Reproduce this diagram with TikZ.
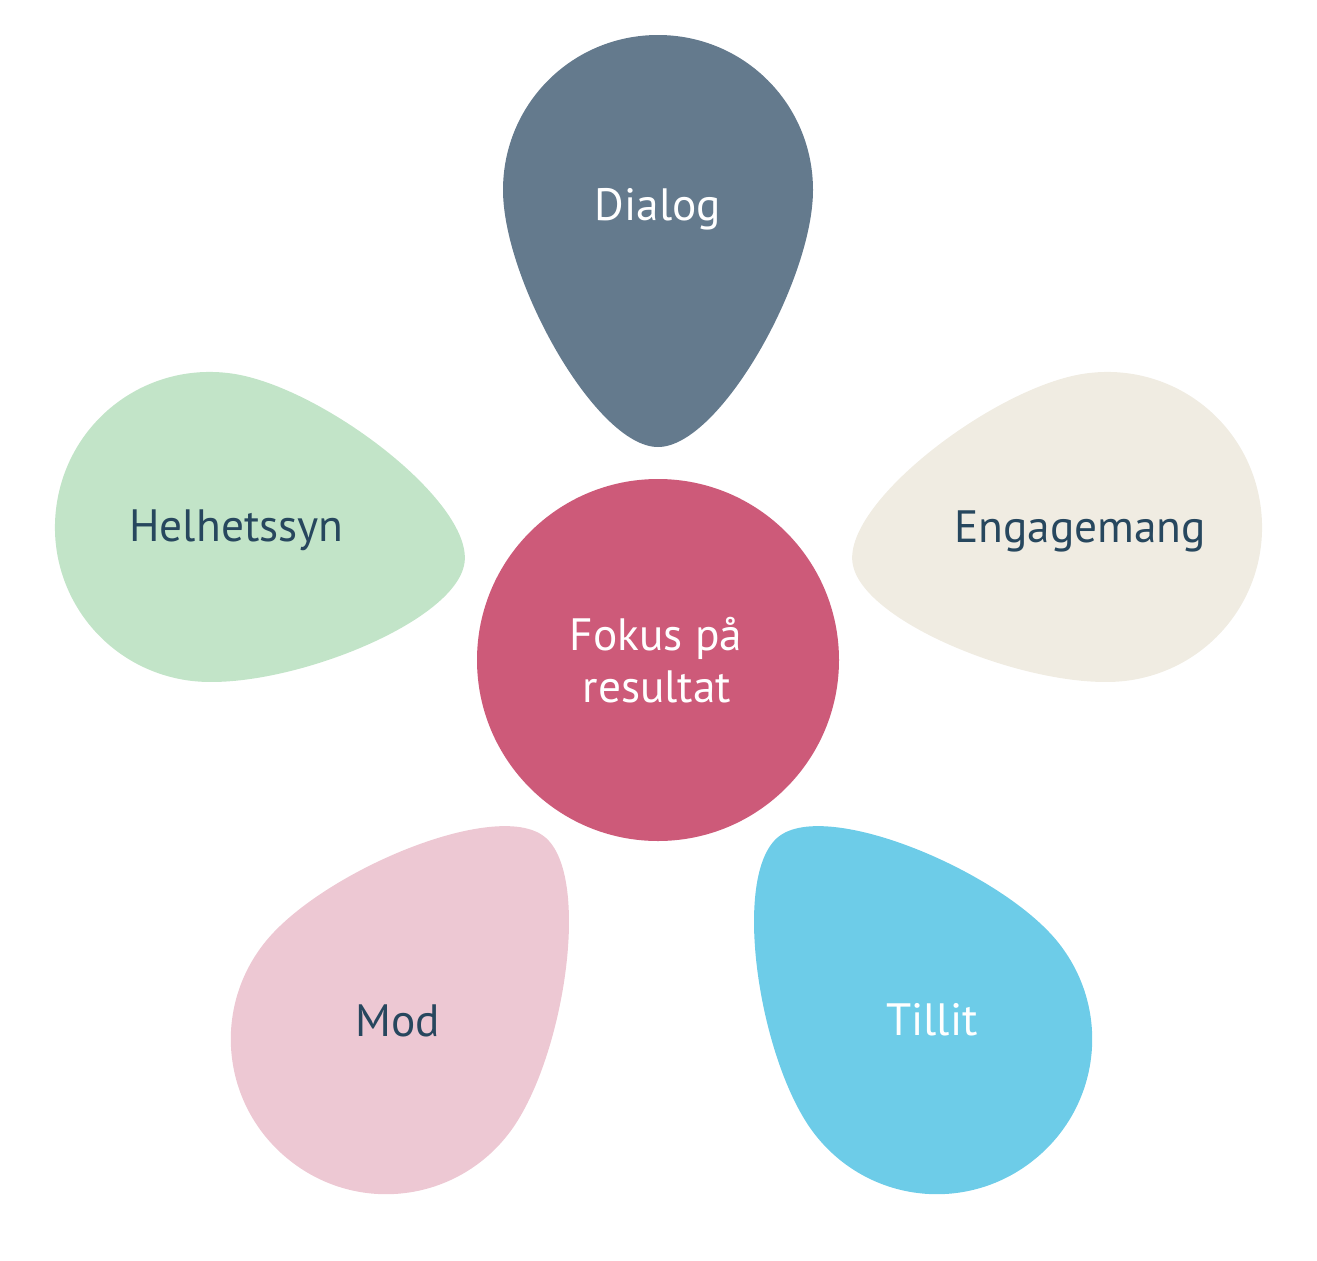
\documentclass[tikz,border=0pt]{standalone}
\usepackage{fontspec}
\setmainfont{PT Sans}
\usepackage{tikz}

\definecolor{dialogblue}{RGB}{100,122,141}
\definecolor{engbeige}{RGB}{240,236,226}
\definecolor{helgreen}{RGB}{194,228,200}
\definecolor{modpink}{RGB}{237,200,211}
\definecolor{tillitcyan}{RGB}{109,204,232}
\definecolor{fokusred}{RGB}{205,90,121}
\definecolor{darktext}{RGB}{39,71,94}

\begin{document}
\begin{tikzpicture}[x=0.75pt,y=0.75pt,yscale=-1,xscale=1,
  lbl/.style={anchor=base,inner sep=0.75pt,font=\fontsize{34pt}{37pt}\selectfont}]
\useasboundingbox (0,0) rectangle (1317,1260);

%Shape: Free Drawing [Dialog]
\fill [dialogblue] (658,35) .. controls (744,35) and (813,104) .. (813,190) .. controls (813,280) and (720,447) .. (658,447) .. controls (596,447) and (503,280) .. (503,190) .. controls (503,104) and (572,35) .. (658,35) -- cycle ;
%Shape: Free Drawing [Engagemang]
\fill [engbeige] (1260.5,505.4) .. controls (1272.5,590.6) and (1213.7,668.5) .. (1128.6,680.5) .. controls (1039.4,693) and (861.1,624.2) .. (852.5,562.8) .. controls (843.9,501.4) and (996.3,386) .. (1085.4,373.5) .. controls (1170.6,361.5) and (1248.5,420.3) .. (1260.5,505.4) -- cycle ;
%Shape: Free Drawing [Helhetssyn]
\fill [helgreen] (56.5,505.4) .. controls (44.5,590.6) and (103.3,668.5) .. (188.4,680.5) .. controls (277.6,693) and (455.9,624.2) .. (464.5,562.8) .. controls (473.1,501.4) and (320.7,386) .. (231.6,373.5) .. controls (146.4,361.5) and (68.5,420.3) .. (56.5,505.4) -- cycle ;
%Shape: Free Drawing [Mod]
\fill [modpink] (290.6,1161.1) .. controls (222.8,1108.2) and (210.9,1011.3) .. (263.9,943.6) .. controls (319.3,872.6) and (495.4,798.3) .. (544.2,836.5) .. controls (593.1,874.6) and (563.6,1063.5) .. (508.1,1134.4) .. controls (455.2,1202.2) and (358.3,1214.1) .. (290.6,1161.1) -- cycle ;
%Shape: Free Drawing [Tillit]
\fill [tillitcyan] (1032.4,1161.1) .. controls (1100.2,1108.2) and (1112.1,1011.3) .. (1059.1,943.6) .. controls (1003.7,872.6) and (827.6,798.3) .. (778.8,836.5) .. controls (729.9,874.6) and (759.4,1063.5) .. (814.9,1134.4) .. controls (867.8,1202.2) and (964.7,1214.1) .. (1032.4,1161.1) -- cycle ;
%Shape: Circle [Fokus]
\fill [fokusred] (658,660) circle [radius=181] ;

% Text Node
\node [lbl,text=white] (dialog) at (658,220) {Dialog};
% Text Node
\node [lbl,text=darktext] (helhetssyn) at (236.5,541) {Helhetssyn};
% Text Node
\node [lbl,text=darktext] (engagemang) at (1080,542) {Engagemang};
% Text Node
\node [lbl,text=darktext] (mod) at (398,1036) {Mod};
% Text Node
\node [lbl,text=white] (tillit) at (932,1035) {Tillit};
% Text Node
\node [lbl,text=white] (fokus) at (656,650) {Fokus på};
% Text Node
\node [lbl,text=white] (resultat) at (657,702) {resultat};

\end{tikzpicture}
\end{document}
